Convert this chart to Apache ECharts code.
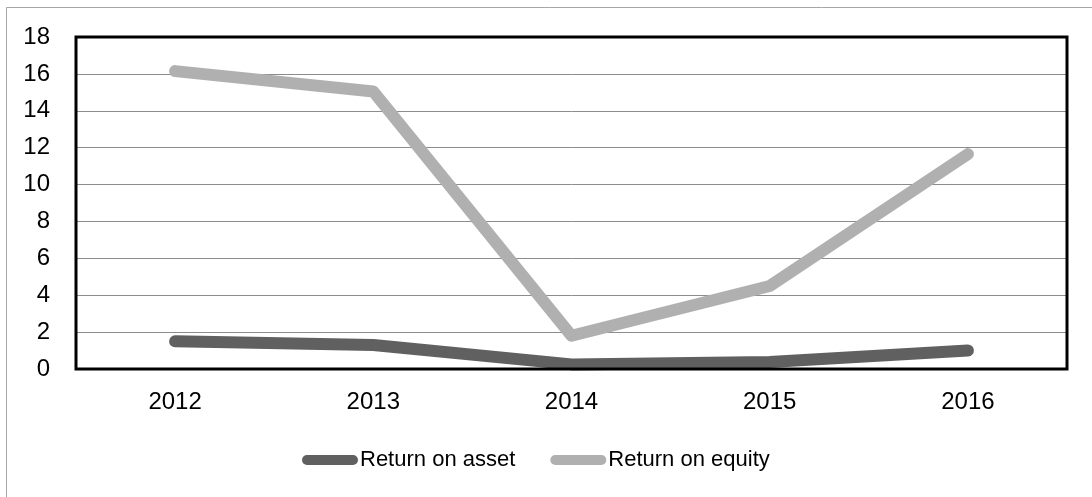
<!DOCTYPE html>
<html><head><meta charset="utf-8">
<script src="https://cdn.jsdelivr.net/npm/echarts@6/dist/echarts.min.js"></script>
<style>html,body{margin:0;padding:0;background:#fff}#c{width:1092px;height:497px}</style>
</head><body><div id="c"></div>
<script>
const categories = ['2012','2013','2014','2015','2016'];
const returnOnAsset = [1.5, 1.3, 0.25, 0.38, 1.0];
const returnOnEquity = [16.15, 15.05, 1.8, 4.5, 11.65];
const yTicks = {min: 0, max: 18, interval: 2};

const chart = echarts.init(document.getElementById('c'));
const font = 'Liberation Sans';
chart.setOption({
  animation: false,
  backgroundColor: '#fff',
  graphic: [{
    type: 'rect', silent: true, z: 100,
    shape: {x: 6.5, y: 7.5, width: 1100, height: 500},
    style: {fill: 'none', stroke: '#a6a6a6', lineWidth: 1}
  }],
  grid: {left: 76, top: 37, right: 25, bottom: 128, show: true, borderColor: '#000', borderWidth: 3, z: 3},
  legend: {
    bottom: 21, left: 297, itemGap: 35, itemWidth: 56, itemHeight: 10,
    icon: 'path://M5,0 L51,0 A5,5 0 0 1 51,10 L5,10 A5,5 0 0 1 5,0 Z',
    textStyle: {fontFamily: font, fontSize: 22, color: '#000', padding: [0,0,0,-3]},
    data: ['Return on asset', 'Return on equity']
  },
  xAxis: {
    type: 'category', data: categories, boundaryGap: true,
    axisLine: {show: true, lineStyle: {color: '#888', width: 1}},
    axisTick: {show: false},
    axisLabel: {fontFamily: font, fontSize: 24, color: '#000', margin: 21}
  },
  yAxis: {
    type: 'value', min: yTicks.min, max: yTicks.max, interval: yTicks.interval,
    axisLine: {show: true, lineStyle: {color: '#888', width: 1}},
    axisTick: {show: false},
    splitLine: {lineStyle: {color: '#8c8c8c', width: 1}},
    axisLabel: {fontFamily: font, fontSize: 24, color: '#000', margin: 26}
  },
  series: [
    {name: 'Return on asset', type: 'line', data: returnOnAsset, symbol: 'none',
     lineStyle: {color: '#606060', width: 12, cap: 'round', join: 'round'}, itemStyle: {color: '#606060'}, z: 2},
    {name: 'Return on equity', type: 'line', data: returnOnEquity, symbol: 'none',
     lineStyle: {color: '#b0b0b0', width: 12, cap: 'round', join: 'round'}, itemStyle: {color: '#b0b0b0'}, z: 2}
  ]
});
</script></body></html>
